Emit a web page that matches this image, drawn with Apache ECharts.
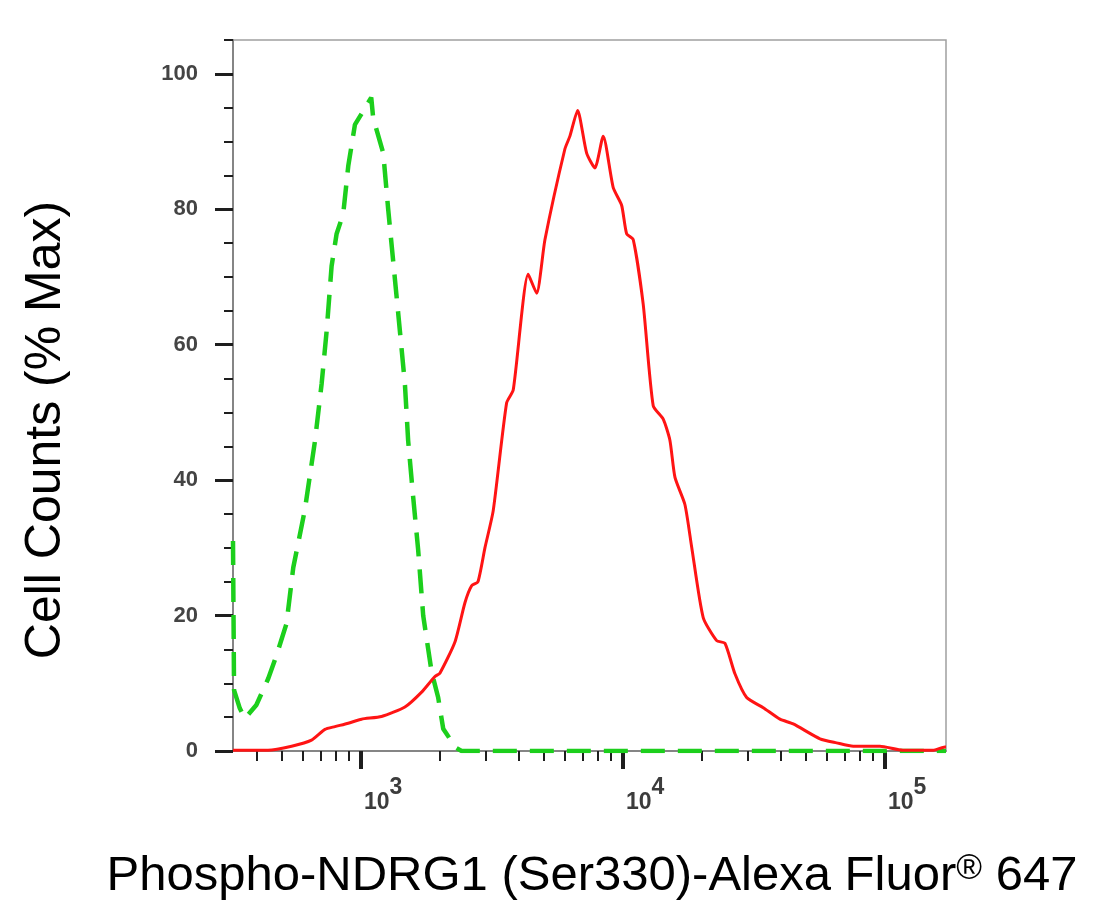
<!DOCTYPE html>
<html>
<head>
<meta charset="utf-8">
<title>Phospho-NDRG1 (Ser330) flow histogram</title>
<script src="https://cdn.jsdelivr.net/npm/echarts@6/dist/echarts.min.js"></script>
<style>
html, body { margin: 0; padding: 0; background: #fff; }
#chart { width: 1120px; height: 916px; }
</style>
</head>
<body>
<div id="chart"></div>
<script>
// isotype control (green dashed) - intensity / % of max
var controlX = [325, 328, 345, 361, 399, 443, 477, 520, 552, 611, 668, 708, 740, 773, 808, 856, 895, 949, 1006, 1095, 1114, 1217, 1271, 1349, 1409, 1472, 1515, 1583, 1654, 1729, 1861, 1972, 2061, 2300, 2423, 171000];
var controlY = [31, 9, 6.3, 4.8, 6.8, 10.7, 14.2, 18.8, 27.1, 35.6, 45.8, 54.2, 62, 71.6, 76.4, 79.3, 86.4, 92.5, 94.1, 96.5, 93.5, 88.3, 80, 69.6, 62, 54.2, 45.8, 37.5, 29.7, 20, 11.7, 7.9, 3.3, 0.5, 0, 0];

// stained sample (red)
var stainedX = [325, 442, 544, 648, 729, 796, 895, 1006, 1199, 1472, 1705, 1917, 2002, 2285, 2495, 2646, 2797, 2974, 3199, 3598, 3813, 4350, 4684, 5039, 6005, 6276, 6715, 7270, 7818, 8411, 9183, 9886, 10330, 10950, 11950, 13050, 14250, 15110, 15800, 17240, 18300, 20250, 22790, 24510, 26760, 29660, 34320, 39740, 44670, 56490, 65390, 75680, 95700, 117200, 152500, 169400, 171000];
var stainedY = [0.1, 0.1, 0.7, 1.6, 3.2, 3.6, 4.1, 4.7, 5.1, 6.5, 8.7, 11, 11.5, 16.1, 21.9, 24.4, 25, 30, 35.5, 51.4, 53.3, 70.4, 67.6, 75.5, 88.9, 90.8, 94.6, 88.3, 86.1, 90.8, 83.2, 80.6, 76.4, 75.5, 66, 51, 49, 45.9, 40.4, 36.4, 30.1, 19.7, 16.3, 15.9, 11.4, 7.9, 6.4, 4.7, 4.0, 1.8, 1.2, 0.7, 0.7, 0.1, 0.1, 0.6, 0.6];

// axis ticks
var xMajorTicks = [1000, 10000, 100000];
var xMinorTicks = [400, 500, 600, 700, 800, 900, 2000, 3000, 4000, 5000, 6000, 7000, 8000, 9000, 20000, 30000, 40000, 50000, 60000, 70000, 80000, 90000];
var yMajorTicks = [0, 20, 40, 60, 80, 100];
var yMinorTicks = [5, 10, 15, 25, 30, 35, 45, 50, 55, 65, 70, 75, 85, 90, 95, 105];

var xMin = 325, xMax = 171000, yMin = 0, yMax = 105;

function pairs(xs, ys) {
    return xs.map(function (x, i) { return [x, ys[i]]; });
}

var myChart = echarts.init(document.getElementById('chart'));

var tickColor = '#1e1e1e';
var lineGray = '#858585';
var labelFont = 'Liberation Sans Narrow, Liberation Sans, Arial, sans-serif';

option = {
    backgroundColor: '#fff',
    animation: false,
    grid: {
        left: 233,
        top: 40,
        right: 174,
        bottom: 165,
        show: true,
        borderColor: '#a0a0a0',
        borderWidth: 1.5,
        outerBoundsMode: 'none'
    },
    xAxis: [
        {
            type: 'log',
            min: xMin,
            max: xMax,
            position: 'bottom',
            axisLine: { lineStyle: { color: lineGray, width: 2 } },
            axisTick: {
                customValues: xMinorTicks,
                length: 10,
                lineStyle: { color: tickColor, width: 2 }
            },
            axisLabel: { show: false },
            splitLine: { show: false }
        },
        {
            type: 'log',
            min: xMin,
            max: xMax,
            position: 'bottom',
            axisLine: { show: false },
            axisTick: {
                customValues: xMajorTicks,
                length: 18,
                lineStyle: { color: tickColor, width: 4 }
            },
            axisLabel: {
                customValues: xMajorTicks,
                margin: 25,
                align: 'left',
                padding: [0, 0, 0, 3],
                formatter: function (v) {
                    return '{b|10}{s|' + Math.round(Math.log10(v)) + '}';
                },
                rich: {
                    b: { fontSize: 23, lineHeight: 23, verticalAlign: 'bottom', fontWeight: 'bold', color: '#3c3c3c', fontFamily: labelFont },
                    s: { fontSize: 23, lineHeight: 38, verticalAlign: 'top', fontWeight: 'bold', color: '#3c3c3c', fontFamily: labelFont }
                }
            },
            splitLine: { show: false }
        }
    ],
    yAxis: [
        {
            type: 'value',
            min: yMin,
            max: yMax,
            axisLine: { show: true, lineStyle: { color: lineGray, width: 2 } },
            axisTick: {
                show: true,
                customValues: yMinorTicks,
                length: 9,
                lineStyle: { color: tickColor, width: 2 }
            },
            axisLabel: { show: false },
            splitLine: { show: false }
        },
        {
            type: 'value',
            min: yMin,
            max: yMax,
            position: 'left',
            axisLine: { show: false },
            axisTick: {
                show: true,
                customValues: yMajorTicks,
                length: 18,
                lineStyle: { color: tickColor, width: 3 }
            },
            axisLabel: {
                customValues: yMajorTicks,
                margin: 35,
                fontSize: 22,
                fontWeight: 'bold',
                color: '#444',
                fontFamily: 'Liberation Sans, Arial, sans-serif'
            },
            splitLine: { show: false }
        }
    ],
    graphic: [
        {
            type: 'text',
            x: 46,
            y: 430,
            rotation: Math.PI / 2,
            style: {
                text: 'Cell Counts (% Max)',
                fontSize: 50,
                fontFamily: 'Liberation Sans, Arial, sans-serif',
                fill: '#000',
                align: 'center',
                verticalAlign: 'middle'
            }
        },
        {
            type: 'text',
            x: 592,
            y: 876,
            style: {
                text: '{m|Phospho-NDRG1 (Ser330)-Alexa Fluor}{r|®}{m| 647}',
                align: 'center',
                verticalAlign: 'middle',
                rich: {
                    m: { fontSize: 49, lineHeight: 49, verticalAlign: 'bottom', fill: '#000', fontFamily: 'Liberation Sans, Arial, sans-serif' },
                    r: { fontSize: 35, lineHeight: 49, verticalAlign: 'top', fill: '#000', fontFamily: 'Liberation Sans, Arial, sans-serif' }
                }
            }
        }
    ],
    series: [
        {
            name: 'Isotype control',
            type: 'line',
            xAxisIndex: 0,
            yAxisIndex: 0,
            data: pairs(controlX, controlY),
            showSymbol: false,
            symbol: 'none',
            lineStyle: { color: '#1ccf1c', width: 4.5, type: [24, 13], cap: 'butt' },
            z: 3
        },
        {
            name: 'Phospho-NDRG1 (Ser330)',
            type: 'line',
            xAxisIndex: 0,
            yAxisIndex: 0,
            data: pairs(stainedX, stainedY),
            showSymbol: false,
            symbol: 'none',
            smooth: 0.2,
            lineStyle: { color: '#ff1414', width: 3 },
            z: 4
        }
    ]
};

myChart.setOption(option);
</script>
</body>
</html>
